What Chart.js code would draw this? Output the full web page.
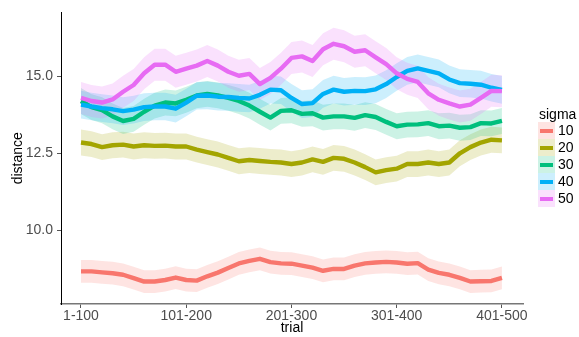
<!DOCTYPE html>
<html><head><meta charset="utf-8">
<script src="https://cdn.jsdelivr.net/npm/chart.js@4"></script>
<style>
html,body{margin:0;padding:0;background:#fff;overflow:hidden}
#wrap{position:relative;width:579px;height:337px}
#legend{position:absolute;left:538px;top:106px;font-family:"Liberation Sans",Arial,sans-serif;color:#000}
#legend .title{font-size:14px;line-height:16px;height:16px;margin-left:1px}
#legend .row{height:17px;display:flex;align-items:center}
#legend .key{position:relative;width:17px;height:17px}
#legend .key span{position:absolute;left:2px;right:2px;top:6.5px;height:4px}
#legend .lab{font-size:14px;margin-left:3px;line-height:17px}
</style></head>
<body>
<div id="wrap"><canvas id="c" width="579" height="337"></canvas><div id="legend"></div></div>
<script>
// trial window position (0 = window 1-100, 400 = window 401-500)
const trialPos = [0,10,20,30,40,50,60,70,80,90,100,110,120,130,140,150,160,170,180,190,200,210,220,230,240,250,260,270,280,290,300,310,320,330,340,350,360,370,380,390,400];
const xTickValues = [0,100,200,300,400];
const xTickLabels = ['1-100','101-200','201-300','301-400','401-500'];
const yTickValues = [10, 12.5, 15];
const sigmaLevels = ['10','20','30','40','50'];

const dist10 = [8.66,8.66,8.63,8.6,8.55,8.44,8.33,8.33,8.38,8.46, 8.38,8.36,8.5,8.62,8.77,8.92,9.0,9.07,8.96,8.92, 8.91,8.85,8.78,8.68,8.74,8.74,8.85,8.92,8.95,8.97, 8.95,8.91,8.93,8.72,8.61,8.55,8.45,8.33,8.34,8.35, 8.45];
const dist20 = [12.85,12.8,12.7,12.76,12.78,12.72,12.76,12.74,12.75,12.72, 12.72,12.62,12.54,12.46,12.35,12.24,12.28,12.25,12.22,12.2, 12.15,12.2,12.3,12.22,12.35,12.32,12.2,12.05,11.88,11.95, 12.0,12.15,12.15,12.2,12.15,12.2,12.5,12.7,12.85,12.94, 12.92];
const dist30 = [14.2,14.0,13.9,13.7,13.55,13.62,13.85,14.05,14.15,14.12, 14.24,14.38,14.43,14.38,14.3,14.2,14.05,13.85,13.66,13.88, 13.9,13.78,13.8,13.66,13.7,13.7,13.65,13.74,13.68,13.52, 13.38,13.43,13.44,13.48,13.38,13.4,13.33,13.35,13.48,13.47, 13.55];
const dist40 = [14.08,14.02,13.97,13.93,13.87,13.92,14.0,14.02,14.02,13.95, 14.15,14.37,14.38,14.34,14.33,14.3,14.28,14.4,14.57,14.55, 14.3,14.1,14.13,14.43,14.57,14.5,14.53,14.52,14.58,14.75, 14.98,15.18,15.26,15.18,15.1,14.9,14.78,14.76,14.73,14.63, 14.56];
const dist50 = [14.3,14.2,14.15,14.25,14.5,14.72,15.1,15.38,15.38,15.15, 15.25,15.35,15.5,15.35,15.15,15.02,15.08,14.75,14.95,15.25, 15.6,15.65,15.5,15.88,16.06,15.98,15.8,15.85,15.62,15.4, 15.1,14.92,14.82,14.45,14.24,14.12,14.02,14.08,14.3,14.53, 14.52];
// half-width of the confidence ribbon, per sigma
const bandHalf = [0.37, 0.42, 0.42, 0.45, 0.52];

const seriesValues = [dist10, dist20, dist30, dist40, dist50];
const lineColors = ['#F8766D','#A3A500','#00BF7D','#00B0F6','#E76BF3'];
const bandColors = ['rgba(248,118,109,0.2)','rgba(163,165,0,0.2)','rgba(0,191,125,0.2)','rgba(0,176,246,0.2)','rgba(231,107,243,0.2)'];

const datasets = [];
// reverse order so sigma 50 is drawn on top (Chart.js draws index 0 last)
for (let k = sigmaLevels.length - 1; k >= 0; k--) {
  const vals = seriesValues[k];
  datasets.push({
    label: sigmaLevels[k],
    data: trialPos.map((x, i) => ({x, y: vals[i]})),
    borderColor: lineColors[k], borderWidth: 4.4, pointRadius: 0, fill: false, tension: 0,
    borderJoinStyle: 'round', borderCapStyle: 'butt'
  });
  datasets.push({
    label: sigmaLevels[k] + ' upper',
    data: trialPos.map((x, i) => ({x, y: vals[i] + bandHalf[k]})),
    borderWidth: 0, pointRadius: 0, backgroundColor: bandColors[k], fill: '+1', tension: 0
  });
  datasets.push({
    label: sigmaLevels[k] + ' lower',
    data: trialPos.map((x, i) => ({x, y: vals[i] - bandHalf[k]})),
    borderWidth: 0, pointRadius: 0, fill: false, tension: 0
  });
}

const FONT = '"Liberation Sans", Arial, sans-serif';
new Chart(document.getElementById('c'), {
  type: 'line',
  data: { datasets },
  options: {
    responsive: false, animation: false, devicePixelRatio: 1,
    layout: { padding: { left: 0, right: 56, top: 9, bottom: 0 } },
    plugins: { legend: { display: false }, tooltip: { enabled: false },
      filler: { drawTime: 'beforeDatasetsDraw' } },
    scales: {
      x: {
        type: 'linear', min: -19, max: 420,
        afterBuildTicks: s => { s.ticks = xTickValues.map(v => ({value: v})); },
        afterFit: s => { s.height = 33; },
        ticks: { callback: (v) => xTickLabels[xTickValues.indexOf(v)], color: '#4D4D4D',
          font: { family: FONT, size: 14 }, padding: 0, maxRotation: 0, autoSkip: false },
        grid: { drawOnChartArea: false, drawTicks: true, tickLength: 4, color: '#555', lineWidth: 1 },
        border: { display: true, color: '#777', width: 1.5 },
        title: { display: true, text: 'trial', color: '#000', font: { family: FONT, size: 14 }, padding: 0 }
      },
      y: {
        type: 'linear', min: 7.6, max: 17.08,
        afterBuildTicks: s => { s.ticks = yTickValues.map(v => ({value: v})); },
        afterFit: s => { s.width = 61; },
        ticks: { callback: v => Number(v).toFixed(1), color: '#4D4D4D',
          font: { family: FONT, size: 14 }, padding: 4 },
        grid: { drawOnChartArea: false, drawTicks: true, tickLength: 4, color: '#555', lineWidth: 1 },
        border: { display: true, color: '#000', width: 1 },
        title: { display: true, text: 'distance', color: '#000', font: { family: FONT, size: 14 }, padding: 9.5 }
      }
    }
  }
});

// legend (ggplot style key: light ribbon box with coloured line)
const lg = document.getElementById('legend');
let html = '<div class="title">sigma</div>';
sigmaLevels.forEach((s, k) => {
  html += '<div class="row"><div class="key" style="background:' + bandColors[k] + '"><span style="background:' + lineColors[k] + '"></span></div><div class="lab">' + s + '</div></div>';
});
lg.innerHTML = html;
</script>
</body></html>
